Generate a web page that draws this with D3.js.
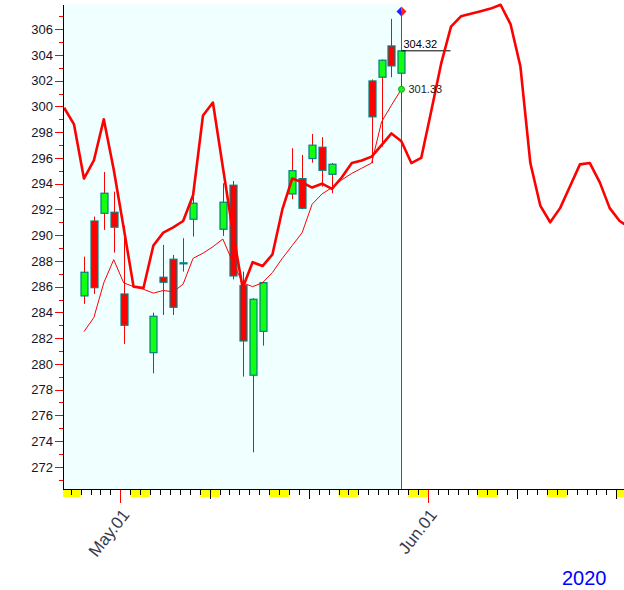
<!DOCTYPE html>
<html><head><meta charset="utf-8">
<script src="https://cdn.jsdelivr.net/npm/d3@7"></script>
<style>html,body{margin:0;padding:0;background:#fff;}svg{display:block;font-family:"Liberation Sans",Arial,sans-serif;}</style>
</head><body><svg id="c" width="624" height="590"></svg>
<script>
// ---- data ----
const candleDates = ["2020-04-27","2020-04-28","2020-04-29","2020-04-30","2020-05-01",
  "2020-05-04","2020-05-05","2020-05-06","2020-05-07","2020-05-08",
  "2020-05-11","2020-05-12","2020-05-13","2020-05-14","2020-05-15",
  "2020-05-18","2020-05-19","2020-05-20","2020-05-21","2020-05-22",
  "2020-05-26","2020-05-27","2020-05-28","2020-05-29"];
const openVals  = [285.28,291.10,291.70,291.78,285.43, 280.87,286.73,288.13,287.80,291.24, 290.46,293.88,286.08,279.12,282.53, 293.20,294.39,295.95,296.83,294.73, 301.98,302.27,304.70,302.58];
const highVals  = [288.33,291.44,294.91,293.38,290.72, 283.98,289.24,288.46,289.76,293.00, 294.03,294.21,287.17,285.10,286.40, 296.75,296.23,297.86,297.61,295.60, 302.10,303.65,306.80,304.40];
const lowVals   = [284.66,285.43,290.41,288.64,281.55, 279.27,283.80,283.80,287.17,289.89, 289.94,286.57,279.01,273.13,281.42, 292.79,292.01,295.63,293.77,293.26, 295.59,296.88,302.27,299.50];
const closeVals = [287.12,285.92,293.26,290.62,283.00, 283.70,286.34,284.40,287.85,292.48, 292.56,286.83,281.78,285.02,286.31, 295.01,292.09,296.99,295.04,295.51, 299.19,303.59,303.15,304.32];

// thick curve: one value per calendar day, Apr 25 .. Jun 21
const curveStart = "2020-04-25";
const curveVals = [299.9,298.6,294.4,295.8,299.0,295.1,
  290.6,286.0,285.9,289.2,290.2,290.6,291.1,293.1,299.3,300.3,
  295.3,290.3,285.9,287.9,287.6,288.5,292.0,294.4,294.1,293.7,
  294.0,293.6,294.5,295.6,295.8,296.1,297.0,297.9,297.3,295.6,296.0,
  299.6,303.3,306.2,307.0,307.2,307.4,307.6,307.9,306.4,303.1,
  295.6,292.3,291.0,292.1,293.8,295.5,295.6,294.1,292.1,291.1,290.6];

// thin average: one value per calendar day, Apr 27 .. May 29
const avgStart = "2020-04-27";
const avgVals = [282.5,283.6,286.3,288.1,286.3,286.0,285.8,285.5,285.7,285.6,
  286.2,288.2,288.6,289.1,289.7,287.9,286.3,286.0,286.3,287.1,288.2,289.2,
  290.2,292.4,293.2,293.7,294.3,294.8,295.2,295.6,298.8,300.1,301.33];

const yTickLabels = [272,274,276,278,280,282,284,286,288,290,292,294,296,298,300,302,304,306];
const lastClose = 304.32;
const lastAvg = 301.33;
const yearLabel = "2020";

// ---- layout ----
const L = 63, R = 624, T = 5, B = 489;
const parse = d3.utcParse("%Y-%m-%d");
const svg = d3.select("#c");
const dayPx = 9.92;
const x = d3.scaleUtc().domain([new Date(Date.UTC(2020,3,25)), new Date(Date.UTC(2020,5,21))])
  .range([60.8, 60.8 + 57*dayPx]);
const y = d3.scaleLinear().domain([270.28, 307.88]).range([B, T]);
const pos = d => x(d3.utcHour.offset(d, 8));

const candles = candleDates.map((d,i)=>({date:parse(d), o:openVals[i], h:highVals[i], l:lowVals[i], c:closeVals[i]}));
const curve = curveVals.map((v,i)=>({date:d3.utcDay.offset(parse(curveStart), i), v}));
const avg = avgVals.map((v,i)=>({date:d3.utcDay.offset(parse(avgStart), i), v}));
const lastDate = candles[candles.length-1].date;
const xLast = Math.round(pos(lastDate)) + 0.5;

svg.append("defs").append("clipPath").attr("id","plot")
  .append("rect").attr("x",L).attr("y",0).attr("width",R-L).attr("height",B);

// background
svg.append("rect").attr("x",L).attr("y",4).attr("width",xLast-L).attr("height",B-4).attr("fill","#f0ffff");

// vertical marker line
svg.append("line").attr("x1",xLast).attr("x2",xLast).attr("y1",T+6).attr("y2",B)
  .attr("stroke","#008080").attr("stroke-width",1);

// candles
const cg = svg.append("g").attr("clip-path","url(#plot)");
cg.selectAll("line.wick").data(candles).join("line").attr("class","wick")
  .attr("x1",d=>Math.round(pos(d.date))+0.5).attr("x2",d=>Math.round(pos(d.date))+0.5)
  .attr("y1",d=>y(d.h)).attr("y2",d=>y(d.l)).attr("stroke","#ff0000").attr("stroke-width",1);
cg.selectAll("rect.body").data(candles).join("rect").attr("class","body")
  .attr("x",d=>Math.round(pos(d.date))-3).attr("width",7)
  .attr("y",d=>y(Math.max(d.o,d.c))).attr("height",d=>Math.max(1,Math.abs(y(d.o)-y(d.c))))
  .attr("fill",d=>d.c>=d.o?"#11ff11":"#ff0000").attr("stroke","#008080").attr("stroke-width",1.2);

// last close line
const yc = y(lastClose);
svg.append("line").attr("x1",xLast).attr("x2",xLast+49).attr("y1",yc).attr("y2",yc).attr("stroke","#000").attr("stroke-width",1);
svg.append("text").attr("x",xLast+2).attr("y",yc-3).attr("font-size",11).attr("fill","#000").text(lastClose.toFixed(2));

// lines
const lg = svg.append("g").attr("clip-path","url(#plot)");
lg.append("path").datum(avg).attr("fill","none").attr("stroke","#ff0000").attr("stroke-width",1)
  .attr("d", d3.line().x(d=>pos(d.date)).y(d=>y(d.v)));
lg.append("path").datum(curve).attr("fill","none").attr("stroke","#ff0000").attr("stroke-width",2.6)
  .attr("stroke-linejoin","round")
  .attr("d", d3.line().x(d=>pos(d.date)).y(d=>y(d.v)));

// last avg marker
const ya = y(lastAvg);
svg.append("circle").attr("cx",xLast).attr("cy",ya).attr("r",3).attr("fill","#22ee22").attr("stroke","#11aa11").attr("stroke-width",1);
svg.append("text").attr("x",xLast+7).attr("y",ya+4).attr("font-size",11).attr("fill","#222").text(lastAvg.toFixed(2));

// diamond marker at top
const dy0 = 11.5, dh = 5;
svg.append("path").attr("d",`M${xLast},${dy0-dh}L${xLast-dh},${dy0}L${xLast},${dy0+dh}Z`).attr("fill","#2020ff");
svg.append("path").attr("d",`M${xLast},${dy0-dh}L${xLast+dh},${dy0}L${xLast},${dy0+dh}Z`).attr("fill","#ff2020");

// ---- x axis ----
const days = d3.utcDay.range(new Date(Date.UTC(2020,3,25)), new Date(Date.UTC(2020,5,22)));
const xg = svg.append("g").attr("clip-path","url(#plot2)");
svg.select("defs").append("clipPath").attr("id","plot2").append("rect").attr("x",L).attr("y",B).attr("width",R-L+1).attr("height",40);
xg.selectAll("rect.we").data(days.filter(d=>d.getUTCDay()===6)).join("rect").attr("class","we")
  .attr("x",d=>x(d)).attr("width",d=>x(d3.utcDay.offset(d,2))-x(d)).attr("y",B+1).attr("height",7).attr("fill","#ffff00");
const dayTicks = days.filter(d=>x(d)>L+2 && x(d)<=R);
const minorT = dayTicks.filter(d=>d.getUTCDate()!==1 && d.getUTCDate()!==10 && d.getUTCDate()!==20);
const midT = dayTicks.filter(d=>d.getUTCDate()===10 || d.getUTCDate()===20);
const monT = dayTicks.filter(d=>d.getUTCDate()===1);
const ax1 = xg.append("g").attr("transform",`translate(0,${B})`).call(d3.axisBottom(x).tickValues(minorT).tickSize(6).tickFormat(""));
const ax2 = xg.append("g").attr("transform",`translate(0,${B})`).call(d3.axisBottom(x).tickValues(midT).tickSize(10).tickFormat(""));
const ax3 = svg.append("g").attr("transform",`translate(0,${B})`).call(d3.axisBottom(x).tickValues(monT).tickSize(14).tickFormat(""));
[ax1,ax2,ax3].forEach(a=>a.select(".domain").remove());
ax1.selectAll(".tick line").attr("stroke","#000").attr("shape-rendering","crispEdges");
ax2.selectAll(".tick line").attr("stroke","#000").attr("shape-rendering","crispEdges");
ax3.selectAll(".tick line").attr("stroke","#ff0000").attr("shape-rendering","crispEdges");
const fmt = d3.utcFormat("%b.%d");
svg.selectAll("text.xl").data(monT).join("text").attr("class","xl")
  .attr("transform",d=>`translate(${x(d)+10},${B+26}) rotate(-52)`)
  .attr("text-anchor","end").attr("font-size",17).attr("fill","#3a3a48").text(d=>fmt(d));
svg.append("line").attr("x1",L).attr("x2",R).attr("y1",B+0.5).attr("y2",B+0.5).attr("stroke","#000").attr("stroke-width",1);

// ---- y axis ----
const minorY = d3.range(271,308,1).filter(v=>v%2!==0);
const yMinor = svg.append("g").attr("transform",`translate(${L},0)`).call(d3.axisLeft(y).tickValues(minorY).tickSize(4).tickFormat(""));
const yMajor = svg.append("g").attr("transform",`translate(${L},0)`).call(d3.axisLeft(y).tickValues(yTickLabels).tickSize(8).tickPadding(2).tickFormat(d3.format("d")));
[yMinor,yMajor].forEach(a=>{a.select(".domain").remove();a.selectAll(".tick line").attr("stroke","#ff0000").attr("shape-rendering","crispEdges");});
yMajor.selectAll(".tick text").attr("font-size",13).attr("fill","#14142a").attr("font-family","'Liberation Sans',Arial,sans-serif");
svg.append("line").attr("x1",L+0.5).attr("x2",L+0.5).attr("y1",T).attr("y2",B+1).attr("stroke","#000").attr("stroke-width",1);

// year label
svg.append("text").attr("x",562).attr("y",585).attr("font-size",20).attr("fill","#0000ff").text(yearLabel);
</script></body></html>
